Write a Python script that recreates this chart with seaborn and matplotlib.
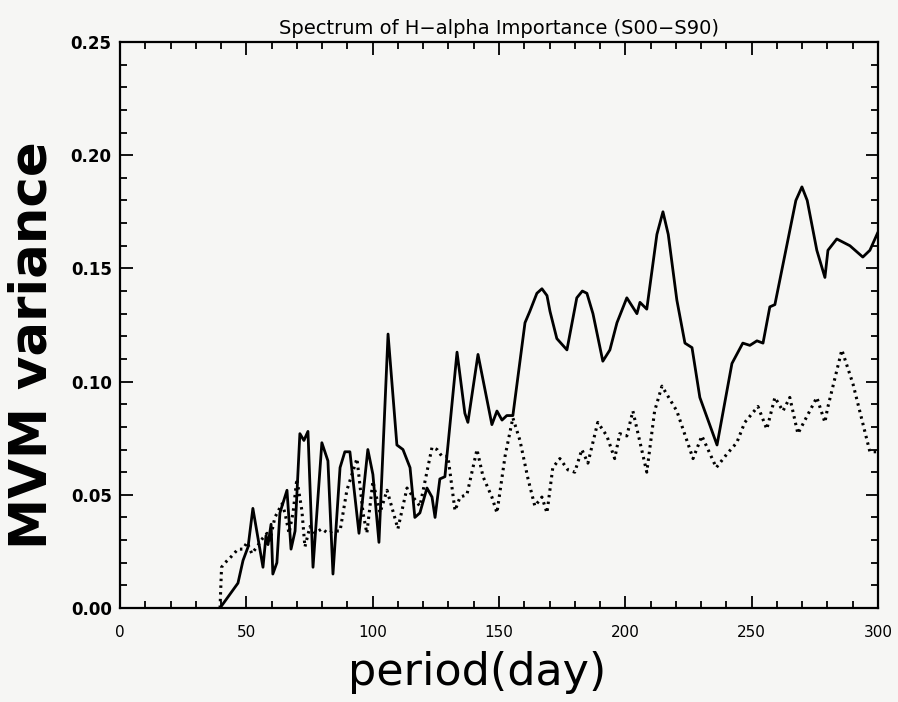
import numpy as np
import pandas as pd
import seaborn as sns
import matplotlib.pyplot as plt
from matplotlib.ticker import MultipleLocator

# solid curve (period in days, MVM variance)
solid_period = [39.6, 46.7, 48.7, 50.7, 52.6, 56.6, 57.8, 58.6, 59.8, 60.5, 62.1, 63.3,
                66.1, 67.7, 69.3, 71.2, 72.8, 74.4, 76.4, 79.9, 82.3, 84.3, 87.1, 89.0,
                91.0, 94.6, 98.1, 100.1, 102.5, 106.1, 109.6, 112.0, 114.8, 116.7, 118.7,
                121.5, 123.5, 124.7, 126.6, 128.6, 133.4, 136.5, 137.7, 141.7, 147.2,
                149.2, 151.2, 153.1, 155.5, 160.3, 162.2, 165.0, 167.0, 169.0, 170.2,
                172.9, 176.9, 180.8, 183.0, 184.8, 187.2, 191.1, 193.9, 196.7, 200.6,
                204.6, 205.8, 208.5, 212.5, 214.9, 217.0, 220.4, 223.6, 226.4, 229.5,
                236.3, 242.2, 246.5, 249.3, 252.1, 254.5, 257.2, 259.2, 267.5, 269.9,
                272.0, 275.8, 279.0, 280.2, 283.7, 288.9, 294.0, 296.8, 300.0]
solid_var = [0.000, 0.011, 0.021, 0.027, 0.044, 0.018, 0.032, 0.028, 0.037, 0.015, 0.020, 0.042,
             0.052, 0.026, 0.034, 0.077, 0.074, 0.078, 0.018, 0.073, 0.065, 0.015, 0.062, 0.069,
             0.069, 0.033, 0.070, 0.059, 0.029, 0.121, 0.072, 0.070, 0.062, 0.040, 0.042,
             0.053, 0.049, 0.040, 0.057, 0.058, 0.113, 0.086, 0.082, 0.112, 0.081,
             0.087, 0.083, 0.085, 0.085, 0.126, 0.131, 0.139, 0.141, 0.138, 0.131,
             0.119, 0.114, 0.137, 0.140, 0.139, 0.130, 0.109, 0.114, 0.126, 0.137,
             0.130, 0.135, 0.132, 0.165, 0.175, 0.165, 0.136, 0.117, 0.115, 0.093,
             0.072, 0.108, 0.117, 0.116, 0.118, 0.117, 0.133, 0.134, 0.180, 0.186,
             0.180, 0.158, 0.146, 0.158, 0.163, 0.160, 0.155, 0.158, 0.166]

# dotted curve
dotted_period = [39.6, 40.2, 41.6, 44.3, 46.7, 48.7, 50.3, 52.2, 54.2, 56.6, 58.2, 59.4,
                 61.3, 64.1, 65.3, 66.9, 68.5, 70.0, 72.0, 73.2, 75.2, 77.2, 79.9, 82.3,
                 84.3, 87.1, 89.8, 93.8, 96.2, 97.7, 100.1, 102.9, 105.7, 110.0, 113.6,
                 116.0, 118.7, 123.5, 125.5, 127.4, 129.8, 132.6, 134.6, 137.3, 141.3,
                 143.7, 147.2, 149.2, 152.4, 155.5, 158.3, 161.5, 164.2, 167.0, 169.0,
                 171.3, 174.1, 177.3, 180.0, 182.8, 185.2, 189.1, 192.7, 195.8, 197.8,
                 200.6, 203.0, 208.5, 211.6, 214.5, 220.4, 226.8, 230.3, 236.0, 240.2,
                 244.1, 247.3, 252.5, 256.0, 259.2, 262.4, 265.1, 268.3, 275.8, 279.0,
                 280.0, 285.7, 290.1, 296.8, 300.0]
dotted_var = [0.000, 0.018, 0.020, 0.023, 0.026, 0.026, 0.029, 0.024, 0.027, 0.031, 0.033, 0.030,
              0.040, 0.046, 0.042, 0.033, 0.042, 0.057, 0.043, 0.027, 0.036, 0.033, 0.035, 0.033,
              0.034, 0.034, 0.052, 0.066, 0.042, 0.033, 0.056, 0.042, 0.052, 0.035, 0.053,
              0.049, 0.045, 0.071, 0.070, 0.067, 0.067, 0.043, 0.049, 0.050, 0.070,
              0.058, 0.049, 0.042, 0.067, 0.084, 0.074, 0.057, 0.045, 0.049, 0.042,
              0.062, 0.066, 0.061, 0.060, 0.070, 0.064, 0.082, 0.076, 0.066, 0.077,
              0.076, 0.087, 0.060, 0.087, 0.098, 0.087, 0.066, 0.076, 0.062, 0.068,
              0.073, 0.082, 0.089, 0.079, 0.093, 0.087, 0.093, 0.077, 0.093, 0.082,
              0.088, 0.114, 0.099, 0.069, 0.069]

x_ticks = [0, 50, 100, 150, 200, 250, 300]
y_ticks = [0.00, 0.05, 0.10, 0.15, 0.20, 0.25]

paper = '#f6f6f4'
sns.set_style('ticks')
plt.rcParams['font.family'] = ['DejaVu Sans']
plt.rcParams['text.color'] = 'black'
plt.rcParams['axes.labelcolor'] = 'black'
plt.rcParams['xtick.color'] = 'black'
plt.rcParams['ytick.color'] = 'black'

fig = plt.figure(figsize=(8.98, 7.02), dpi=100, facecolor=paper)
ax = fig.add_axes([0.1336, 0.1339, 0.8441, 0.8063])
ax.set_facecolor(paper)

df_solid = pd.DataFrame({'period': solid_period, 'var': solid_var})
df_dot = pd.DataFrame({'period': dotted_period, 'var': dotted_var})
sns.lineplot(data=df_solid, x='period', y='var', ax=ax, color='black', lw=2.0,
             estimator=None, sort=False)
sns.lineplot(data=df_dot, x='period', y='var', ax=ax, color='black', lw=2.2,
             linestyle=(0, (0.8, 1.4)), estimator=None, sort=False)

ax.set_xlim(0, 300)
ax.set_ylim(0, 0.25)
ax.set_xticks(x_ticks)
ax.set_xticklabels([str(t) for t in x_ticks], fontsize=11)
ax.set_yticks(y_ticks)
ax.set_yticklabels(['%.2f' % t for t in y_ticks], fontsize=12, fontweight='bold')
ax.xaxis.set_minor_locator(MultipleLocator(10))
ax.yaxis.set_minor_locator(MultipleLocator(0.01))
ax.tick_params(which='both', direction='in', top=True, right=True, width=1.3,
               colors='black', labelcolor='black')
ax.tick_params(which='major', length=9)
ax.tick_params(which='minor', length=5)
ax.tick_params(axis='x', which='major', pad=12)
ax.tick_params(axis='y', which='major', pad=6)
for s in ax.spines.values():
    s.set_linewidth(1.6)
    s.set_color('black')
ax.set_xlabel('')
ax.set_ylabel('')

ax.set_title('Spectrum of H\u2212alpha Importance (S00\u2212S90)', fontsize=14, pad=6,
             color='black')
fig.text(0.036, 1 - 345 / 702, 'MVM variance', rotation=90, fontsize=37,
         fontweight='bold', ha='center', va='center', color='black')
fig.text(477 / 898, 1 - 672 / 702, 'period(day)', fontsize=32, ha='center', va='center',
         color='black')

fig.savefig('out.png', dpi=100, facecolor=paper)
